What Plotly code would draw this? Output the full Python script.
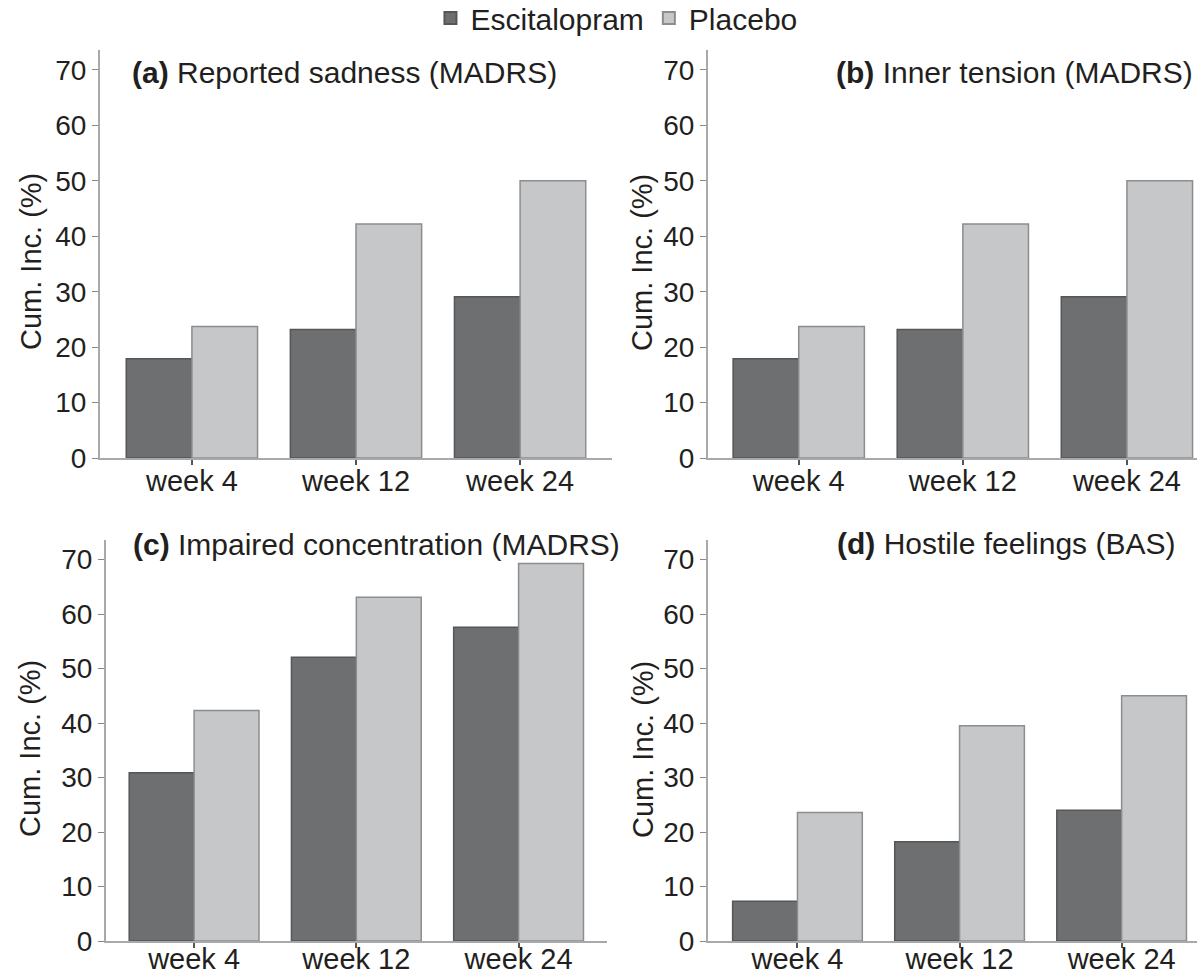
import plotly.graph_objects as go

W, H = 1197, 978

categories = ["week 4", "week 12", "week 24"]
series_names = ["Escitalopram", "Placebo"]

a_esc = [17.9, 23.2, 29.1]
a_pla = [23.7, 42.2, 50.0]
b_esc = [17.9, 23.2, 29.1]
b_pla = [23.7, 42.2, 50.0]
c_esc = [30.9, 52.1, 57.6]
c_pla = [42.3, 63.1, 69.3]
d_esc = [7.3, 18.2, 24.0]
d_pla = [23.6, 39.5, 45.0]

panel_titles = [
    "<b>(a)</b> Reported sadness (MADRS)",
    "<b>(b)</b> Inner tension (MADRS)",
    "<b>(c)</b> Impaired concentration (MADRS)",
    "<b>(d)</b> Hostile feelings (BAS)",
]
y_title = "Cum. Inc. (%)"
y_ticks = [0, 10, 20, 30, 40, 50, 60, 70]

panels = [(a_esc, a_pla), (b_esc, b_pla), (c_esc, c_pla), (d_esc, d_pla)]

ESC_COLOR = "#6e6f71"
ESC_LINE = "#555658"
PLA_COLOR = "#c6c7c9"
PLA_LINE = "#8c8d8f"
FONT = "Liberation Sans, Arial, Helvetica, sans-serif"
TXT = "#231f20"

def px_x(p):
    return p / W

def px_y(p):
    return (H - p) / H

# domains in pixels: (left, right, top, bottom)
dom_px = [
    (100, 612, 50, 458),
    (708, 1197, 50, 458),
    (106, 607, 540, 941),
    (708, 1197, 540, 941),
]
# x ranges (category units)
x_ranges = [
    [-0.56, 2.56],
    [-0.553, 2.427],
    [-0.543, 2.545],
    [-0.552, 2.465],
]
label_standoff = [-9, -9, -14, -14]
y_range = [0, 73.6]

fig = go.Figure()
for i, (esc, pla) in enumerate(panels):
    sfx = "" if i == 0 else str(i + 1)
    fig.add_trace(go.Bar(
        x=list(range(len(categories))), y=esc, name=series_names[0],
        marker=dict(color=ESC_COLOR, line=dict(color=ESC_LINE, width=1.5)),
        xaxis="x" + sfx, yaxis="y" + sfx, showlegend=(i == 0),
        legendgroup="esc",
    ))
    fig.add_trace(go.Bar(
        x=list(range(len(categories))), y=pla, name=series_names[1],
        marker=dict(color=PLA_COLOR, line=dict(color=PLA_LINE, width=1.5)),
        xaxis="x" + sfx, yaxis="y" + sfx, showlegend=(i == 0),
        legendgroup="pla",
    ))

layout = dict(
    width=W, height=H,
    margin=dict(l=0, r=0, t=0, b=0, autoexpand=False),
    paper_bgcolor="white", plot_bgcolor="white",
    barmode="group", bargap=0.2, bargroupgap=0,
    font=dict(family=FONT, size=28, color=TXT),
    legend=dict(orientation="h", x=0.515, xanchor="center",
                y=px_y(18), yanchor="middle",
                font=dict(size=30, color=TXT), itemwidth=30, traceorder="normal",
                bgcolor="rgba(0,0,0,0)", tracegroupgap=0, itemsizing="constant"),
    annotations=[],
)

for i in range(4):
    sfx = "" if i == 0 else str(i + 1)
    l, r, t, b = dom_px[i]
    layout["xaxis" + sfx] = dict(
        domain=[px_x(l), min(1.0, px_x(r))], anchor="y" + sfx,
        range=x_ranges[i], tickmode="array",
        tickvals=list(range(len(categories))), ticktext=categories,
        showline=True, linecolor="#a9a9ab", linewidth=2,
        ticks="outside", ticklen=5, tickwidth=1.5, tickcolor="#555",
        ticklabelstandoff=label_standoff[i],
        showgrid=False, zeroline=False, fixedrange=True,
        tickfont=dict(size=29, color=TXT),
    )
    layout["yaxis" + sfx] = dict(
        domain=[px_y(b), px_y(t)], anchor="x" + sfx,
        range=y_range, tickmode="array", tickvals=y_ticks,
        showline=True, linecolor="#a9a9ab", linewidth=2,
        ticks="outside", ticklen=6, tickwidth=1.2, tickcolor="#888",
        showgrid=False, zeroline=False, fixedrange=True,
        tickfont=dict(size=28, color=TXT),
    )

# panel titles
title_pos = [
    (130, 72, "left"),
    (1195, 72, "right"),
    (131, 544, "left"),
    (1177, 543, "right"),
]
for txt, (x, y, anc) in zip(panel_titles, title_pos):
    layout["annotations"].append(dict(
        text=txt, x=px_x(x), y=px_y(y), xref="paper", yref="paper",
        xanchor=anc, yanchor="middle", showarrow=False,
        font=dict(size=30, color=TXT),
    ))

# y-axis titles
ytitle_pos = [(31, 262), (642, 263), (30, 749), (643, 750)]
for x, y in ytitle_pos:
    layout["annotations"].append(dict(
        text=y_title, x=px_x(x), y=px_y(y), xref="paper", yref="paper",
        xanchor="center", yanchor="middle", showarrow=False, textangle=-90,
        font=dict(size=29, color=TXT),
    ))

fig.update_layout(**layout)
fig.write_html("out.html")
